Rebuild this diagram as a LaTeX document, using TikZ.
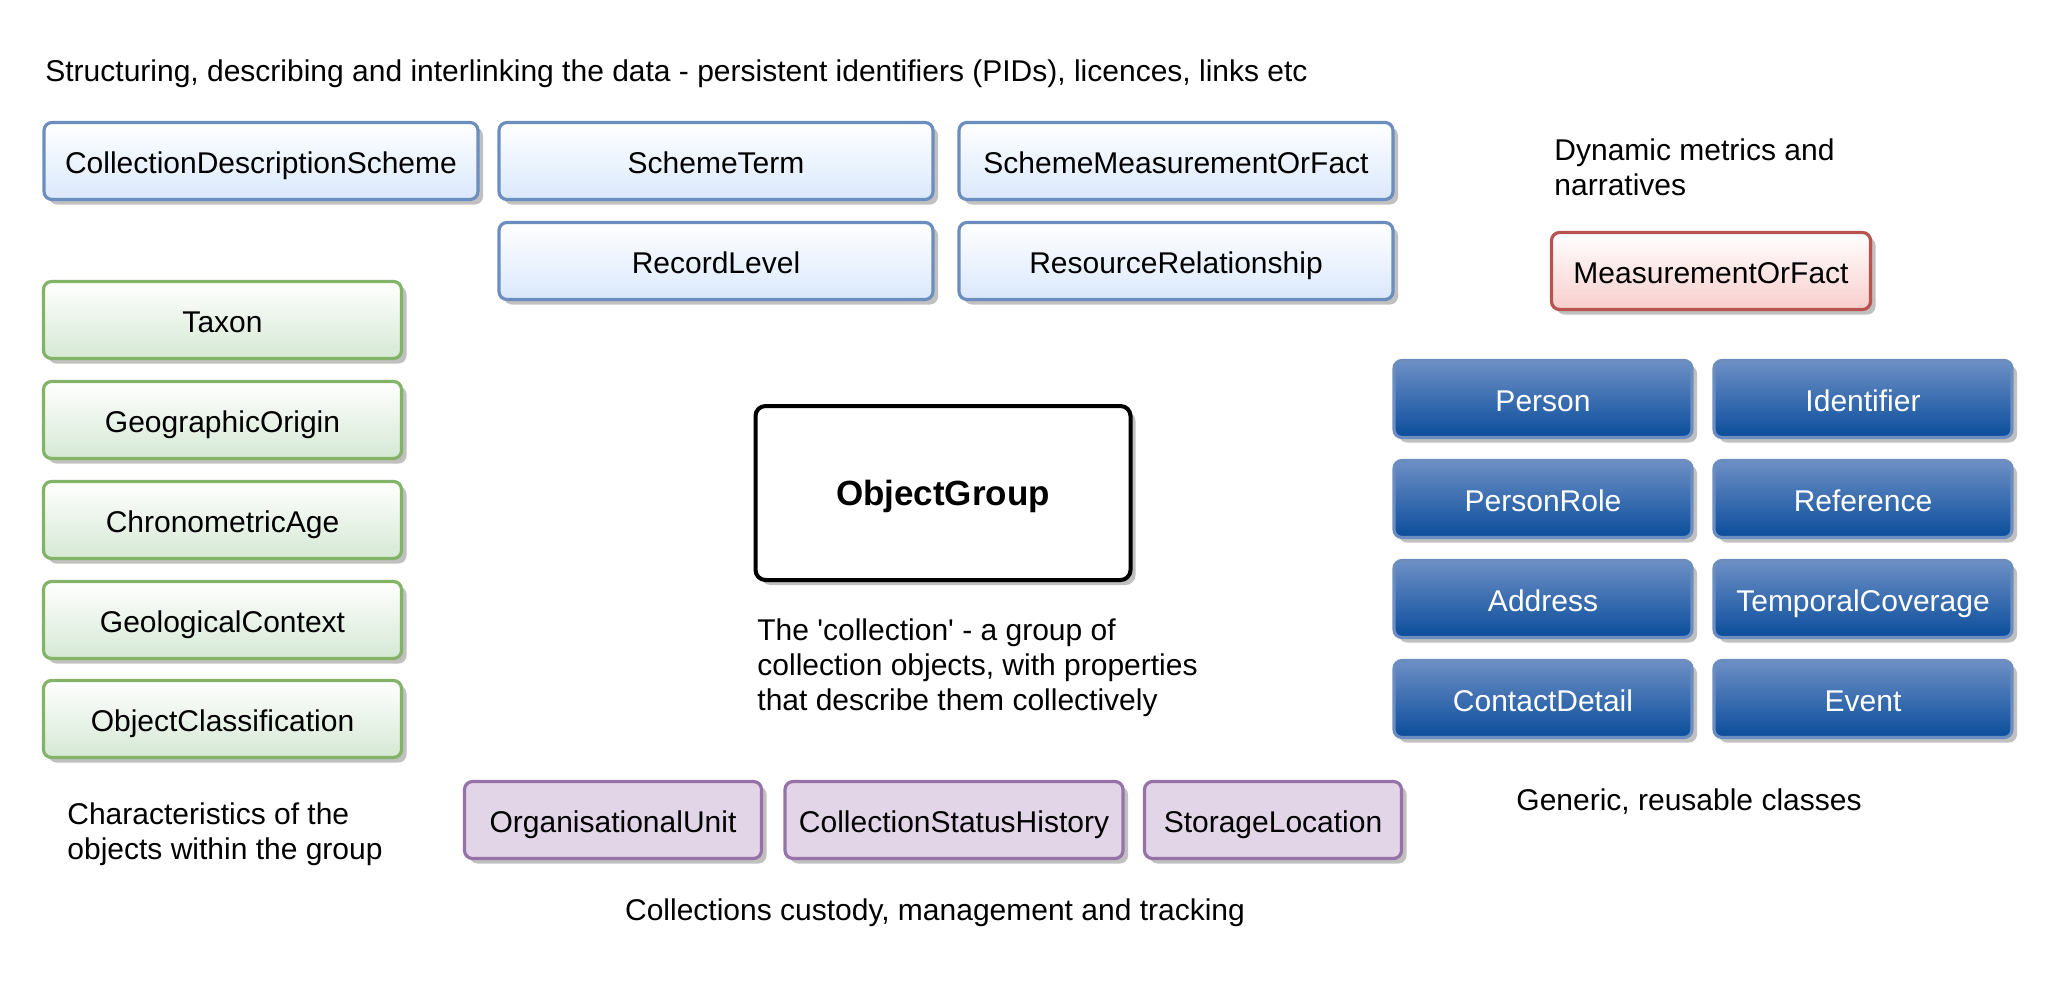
\documentclass[tikz,border=0pt]{standalone}
\usepackage{fontspec}
\setmainfont{Liberation Sans}
\usetikzlibrary{shadows}

\definecolor{schemeline}{HTML}{6C8EBF}
\definecolor{schemefill}{HTML}{DAE8FC}
\definecolor{objline}{HTML}{82B366}
\definecolor{objfill}{HTML}{D5E8D4}
\definecolor{factline}{HTML}{B85450}
\definecolor{factfill}{HTML}{F8CECC}
\definecolor{custline}{HTML}{9673A6}
\definecolor{custfill}{HTML}{E1D5E7}
\definecolor{generictop}{HTML}{6D8FC4}
\definecolor{genericbottom}{HTML}{0A4D9C}
\definecolor{shadowgrey}{HTML}{C0C0C0}

\tikzset{
	classbox/.style={rounded corners=4pt, line width=1.6pt, minimum height=38.5pt, inner sep=0pt,
		text height=15.2pt, text depth=3pt,
		drop shadow={shadow xshift=2.5pt, shadow yshift=-2.5pt, fill=shadowgrey, opacity=1}},
	schemebox/.style={classbox, draw=schemeline, top color=white, bottom color=schemefill, minimum width=217pt},
	objbox/.style={classbox, draw=objline, top color=white, bottom color=objfill, minimum width=179pt},
	factbox/.style={classbox, draw=factline, top color=white, bottom color=factfill, minimum width=159.5pt},
	genericbox/.style={classbox, draw=schemeline, top color=generictop, bottom color=genericbottom, text=white, minimum width=149pt},
	custbox/.style={classbox, draw=custline, fill=custfill},
	note/.style={align=left, inner sep=0pt},
}

\begin{document}
\begin{tikzpicture}[x=0.5pt,y=-0.5pt,font=\fontsize{15}{17.5}\selectfont]
	\useasboundingbox (0,0) rectangle (2060,982);
	% PIDs, licences, links
	\node[note,anchor=west] (pidnote) at (45,74) {Structuring, describing and interlinking the data - persistent identifiers (PIDs), licences, links etc};
	\node[schemebox] (descscheme) at (261,161) {CollectionDescriptionScheme};
	\node[schemebox] (schemeterm) at (716,161) {SchemeTerm};
	\node[schemebox] (schememof) at (1176,161) {SchemeMeasurementOrFact};
	\node[schemebox] (recordlevel) at (716,261) {RecordLevel};
	\node[schemebox] (resrel) at (1176,261) {ResourceRelationship};
	% object characteristics
	\node[objbox] (taxon) at (222.5,320) {Taxon};
	\node[objbox] (geoorigin) at (222.5,420) {GeographicOrigin};
	\node[objbox] (chronoage) at (222.5,520) {ChronometricAge};
	\node[objbox] (geocontext) at (222.5,620) {GeologicalContext};
	\node[objbox] (objclass) at (222.5,719) {ObjectClassification};
	\node[note,anchor=west] (charnote) at (67,834) {Characteristics of the\\objects within the group};
	% the collection
	\node[draw, rounded corners=5pt, line width=2pt, minimum width=187.5pt, minimum height=87pt, fill=white,
		text height=15.6pt, text depth=3pt,
		drop shadow={shadow xshift=2.5pt, shadow yshift=-2.5pt, fill=shadowgrey, opacity=1},
		font=\fontsize{17.5}{20}\selectfont\bfseries] (objgroup) at (943,493) {ObjectGroup};
	\node[note,anchor=west] (groupnote) at (757,668) {The \textquotesingle collection\textquotesingle{} - a group of\\collection objects, with properties\\that describe them collectively};
	% custody
	\node[custbox, minimum width=148.5pt] (orgunit) at (613,820) {OrganisationalUnit};
	\node[custbox, minimum width=169pt] (statushist) at (954,820) {CollectionStatusHistory};
	\node[custbox, minimum width=128.5pt] (storeloc) at (1273,820) {StorageLocation};
	\node[note] (custnote) at (935,913) {Collections custody, management and tracking};
	% metrics
	\node[note,anchor=west] (factnote) at (1554,167) {Dynamic metrics and\\narratives};
	\node[factbox] (mof) at (1711,271) {MeasurementOrFact};
	% generic classes
	\node[genericbox] (person) at (1543,399) {Person};
	\node[genericbox] (identifier) at (1863,399) {Identifier};
	\node[genericbox] (personrole) at (1543,499) {PersonRole};
	\node[genericbox] (reference) at (1863,499) {Reference};
	\node[genericbox] (address) at (1543,599) {Address};
	\node[genericbox] (temporal) at (1863,599) {TemporalCoverage};
	\node[genericbox] (contact) at (1543,699) {ContactDetail};
	\node[genericbox] (event) at (1863,699) {Event};
	\node[note] (genericnote) at (1689,802) {Generic, reusable classes};
\end{tikzpicture}
\end{document}
